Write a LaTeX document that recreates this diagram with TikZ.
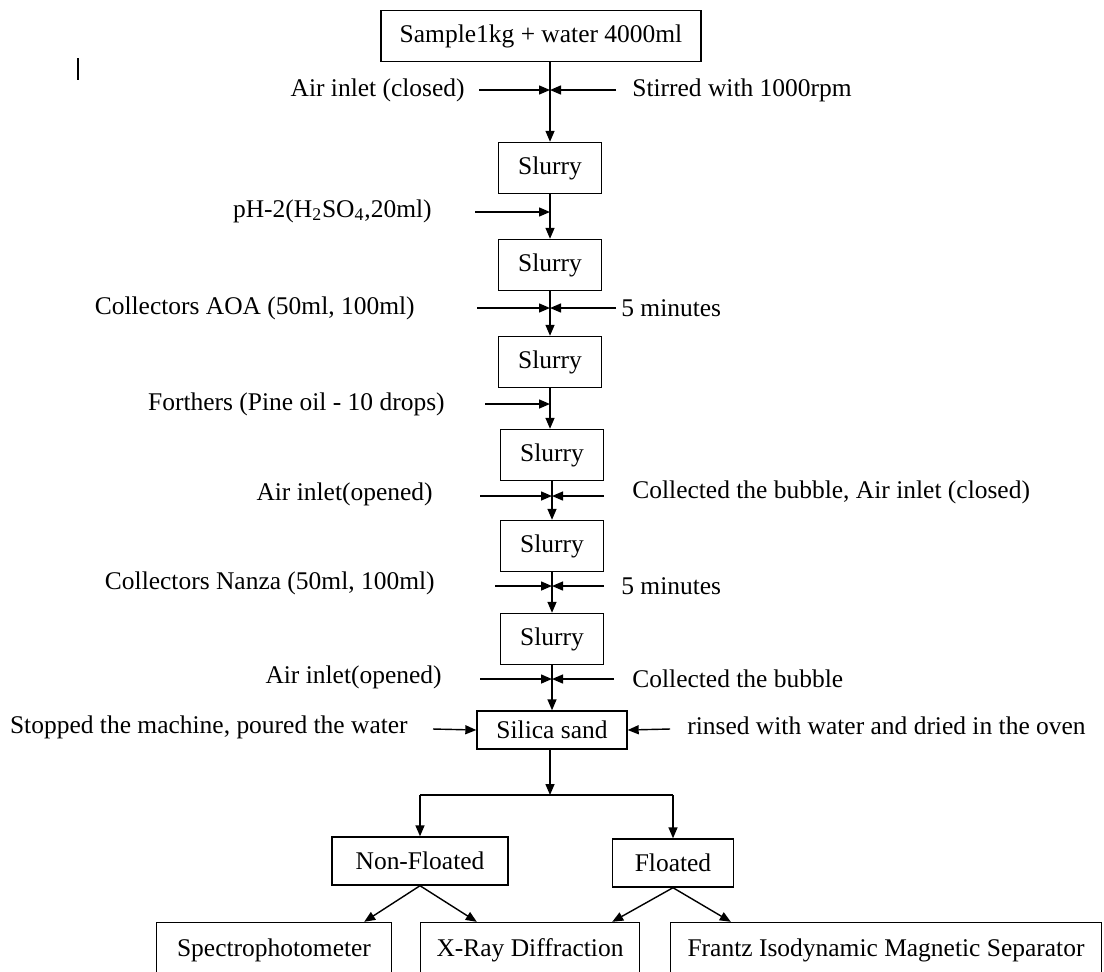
\documentclass[tikz,border=0pt]{standalone}
\usepackage{fontspec}
\setmainfont{Liberation Serif}
\usetikzlibrary{arrows.meta,positioning,calc}

\begin{document}
\begin{tikzpicture}[
  x=0.02cm, y=-0.02cm,
  font=\fontsize{14.5}{17}\selectfont,
  box/.style={draw, line width=0.8pt, align=center, inner sep=2pt},
  slurry/.style={box, minimum width=2.06cm, minimum height=1.02cm},
  result/.style={box, minimum height=1.1cm},
  lbl/.style={inner sep=0pt},
  arr/.style={-{Triangle[length=0.22cm, width=0.18cm]}, line width=0.8pt},
  wire/.style={line width=0.8pt}
]
\useasboundingbox (0,0) rectangle (1104,971);
\draw[wire] (78,58) -- (78,80);

% main column
\node[box, minimum width=6.4cm, minimum height=1.02cm] (sample) at (541,36) {Sample1kg + water 4000ml};
\node[slurry] (s1) at (550,168) {Slurry};
\node[slurry] (s2) at (550,265) {Slurry};
\node[slurry] (s3) at (550,362) {Slurry};
\node[slurry] (s4) at (552,455) {Slurry};
\node[slurry] (s5) at (552,546) {Slurry};
\node[slurry] (s6) at (552,639) {Slurry};
\node[box, minimum width=3cm, minimum height=0.76cm] (silica) at (552,730) {Silica sand};
\node[box, minimum width=3.52cm, minimum height=0.96cm] (nonfl) at (420,861) {Non-Floated};
\node[box, minimum width=2.42cm, minimum height=0.96cm] (fl) at (673,863) {Floated};
\node[result, minimum width=4.7cm] (spectro) at (274,950) {Spectrophotometer};
\node[result, minimum width=4.38cm] (xrd) at (530,950) {X-Ray Diffraction};
\node[result, minimum width=8.62cm] (frantz) at (886,950) {Frantz Isodynamic Magnetic Separator};

% junctions on the main line
\coordinate (j1) at (550,90);
\coordinate (j2) at (550,212);
\coordinate (j3) at (550,308);
\coordinate (j4) at (550,404);
\coordinate (j5) at (552,496);
\coordinate (j6) at (552,586);
\coordinate (j7) at (552,679);
\coordinate (split) at (550,795);

% side inputs
\node[lbl, anchor=east] (air1) at (465,90) {Air inlet (closed)};
\node[lbl, anchor=west] (stir) at (632,90) {Stirred with 1000rpm};
\node[lbl, anchor=east] (ph) at (432,211) {pH-2(H\textsubscript{2}SO\textsubscript{4},20ml)};
\node[lbl, anchor=east] (aoa) at (415,308) {Collectors AOA (50ml, 100ml)};
\node[lbl, anchor=west] (min1) at (621,308) {5 minutes};
\node[lbl, anchor=east] (froth) at (445,404) {Forthers (Pine oil - 10 drops)};
\node[lbl, anchor=east] (air2) at (433,494) {Air inlet(opened)};
\node[lbl, anchor=west] (bub1) at (632,492) {Collected the bubble, Air inlet (closed)};
\node[lbl, anchor=east] (nanza) at (435,583) {Collectors Nanza (50ml, 100ml)};
\node[lbl, anchor=west] (min2) at (621,586) {5 minutes};
\node[lbl, anchor=east] (air3) at (442,677) {Air inlet(opened)};
\node[lbl, anchor=west] (bub2) at (632,679) {Collected the bubble};
\node[lbl, anchor=east] (stop) at (408,727) {Stopped the machine, poured the water};
\node[lbl, anchor=west] (rinse) at (687,726) {rinsed with water and dried in the oven};

\coordinate (a1) at (479,90);   \coordinate (b1) at (616,90);
\coordinate (a2) at (475,212);
\coordinate (a3) at (477,308);  \coordinate (b3) at (616,308);
\coordinate (a4) at (485,404);
\coordinate (a5) at (480,496);  \coordinate (b5) at (604,496);
\coordinate (a6) at (495,586);  \coordinate (b6) at (604,586);
\coordinate (a7) at (480,679);  \coordinate (b7) at (614,679);
\coordinate (a8) at (433,729);  \coordinate (b8) at (670,729);

\draw[arr] (sample.south -| s1.north) -- (s1.north);
\draw[arr] (s1.south) -- (s2.north);
\draw[arr] (s2.south) -- (s3.north);
\draw[arr] (s3.south) -- (s3.south |- s4.north);
\draw[arr] (s4.south) -- (s5.north);
\draw[arr] (s5.south) -- (s6.north);
\draw[arr] (s6.south) -- (s6.south |- silica.north);

\draw[arr] (a1) -- (j1); \draw[arr] (b1) -- (j1);
\draw[arr] (a2) -- (j2);
\draw[arr] (a3) -- (j3); \draw[arr] (b3) -- (j3);
\draw[arr] (a4) -- (j4);
\draw[arr] (a5) -- (j5); \draw[arr] (b5) -- (j5);
\draw[arr] (a6) -- (j6); \draw[arr] (b6) -- (j6);
\draw[arr] (a7) -- (j7); \draw[arr] (b7) -- (j7);
\draw[arr] (a8) -- (silica.west); \draw[arr] (b8) -- (silica.east);

% split into products
\draw[arr] (silica.south -| split) -- (split);
\draw[wire] (split -| nonfl) -- (split -| fl);
\draw[arr] (split -| nonfl) -- (nonfl.north);
\draw[arr] (split -| fl) -- (fl.north);
\draw[arr] (nonfl.south) -- ([xshift=-0.56cm]spectro.north east);
\draw[arr] (nonfl.south) -- ([xshift=1.14cm]xrd.north west);
\draw[arr] (fl.south) -- ([xshift=-0.56cm]xrd.north east);
\draw[arr] (fl.south) -- ([xshift=1.22cm]frantz.north west);
\end{tikzpicture}
\end{document}
